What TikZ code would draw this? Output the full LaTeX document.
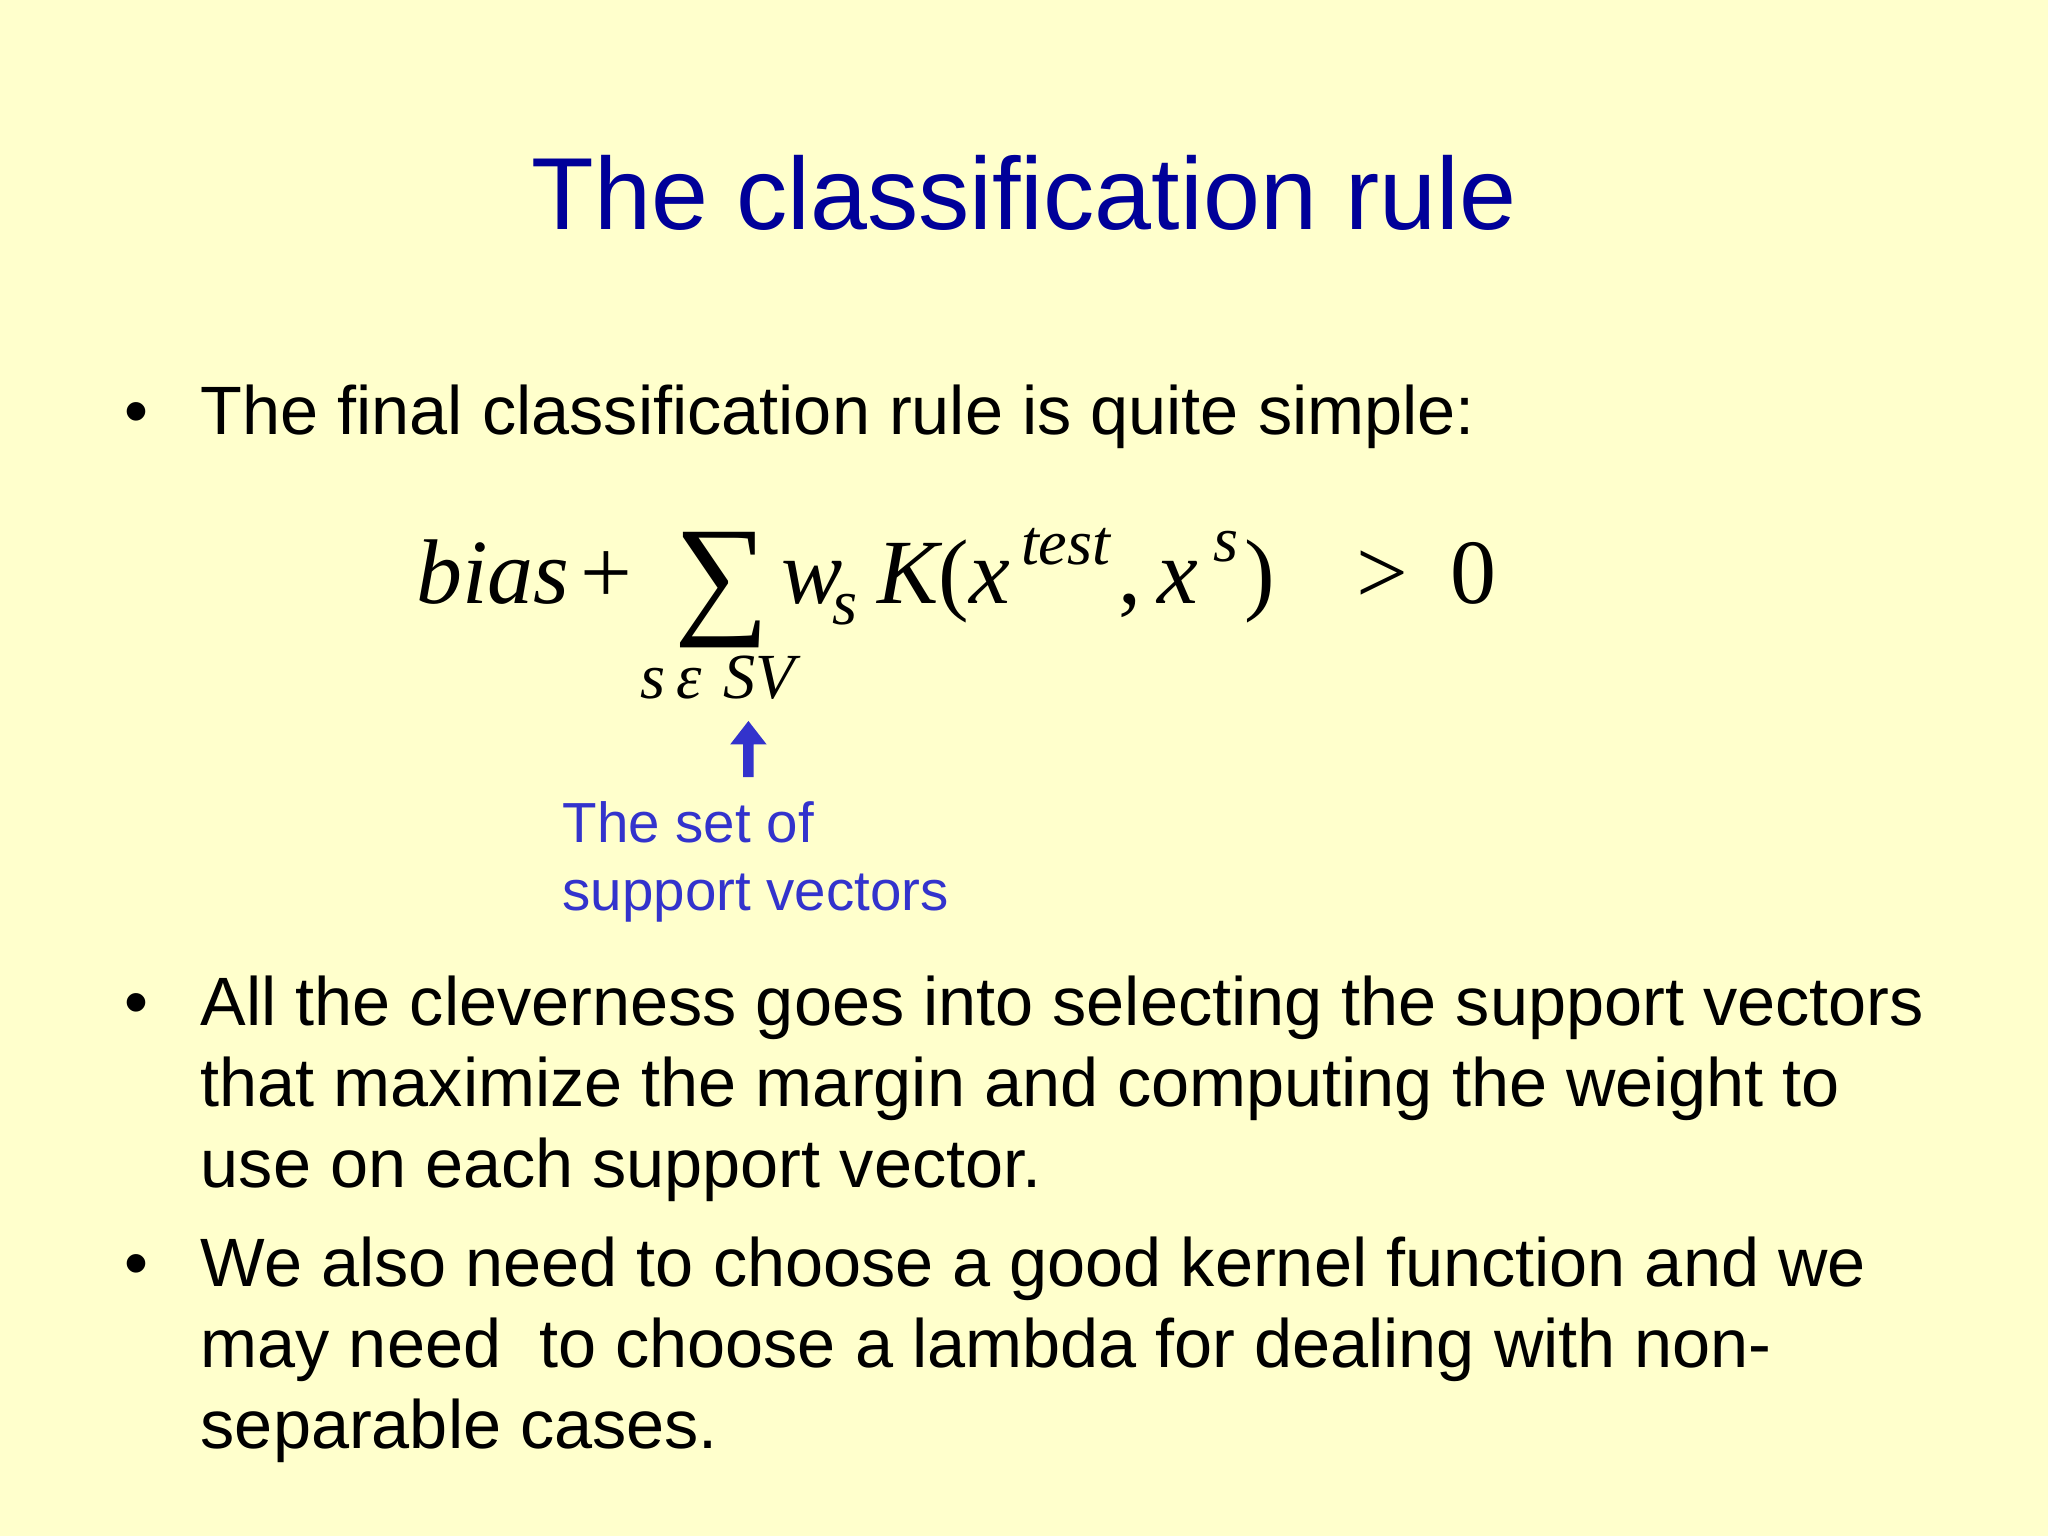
\documentclass[tikz,border=0pt]{standalone}
\usepackage{fontspec}
\setmainfont{Liberation Sans}
\newfontfamily\fserif{Liberation Serif}
\definecolor{bg}{HTML}{FFFFCC}
\definecolor{ttl}{HTML}{000099}
\definecolor{capcol}{HTML}{3333CC}
\begin{document}
\begin{tikzpicture}[x=0.01cm,y=-0.01cm,
  body/.style={anchor=base west,inner sep=0,font=\fontsize{14.9pt}{18pt}\selectfont},
  fm/.style={anchor=base west,inner sep=0,font=\fserif\fontsize{20pt}{24pt}\selectfont},
  fsub/.style={anchor=base west,inner sep=0,font=\fserif\fontsize{14pt}{16pt}\selectfont\itshape},
  capt/.style={anchor=base west,inner sep=0,text=capcol,font=\fontsize{12.3pt}{14pt}\selectfont}]
\fill[bg] (0,0) rectangle (1568,1176);
\useasboundingbox (0,0) rectangle (1568,1176);
\node[anchor=base,inner sep=0,text=ttl,font=\fontsize{22.3pt}{26pt}\selectfont] (title) at (784,176) {The classification rule};
\node[body] (b1) at (95,333) {•};
\node[body] (l1) at (153,333) {The final classification rule is quite simple:};
% formula
\node[fm] (bias) at (318,462) {\itshape bias};
\node[fm] (plus) at (444,462) {+};
\node[anchor=base west,inner sep=0,font=\fserif\fontsize{29pt}{32pt}\selectfont] (sum) at (516,474) {∑};
\node[fm] (w) at (598,462) {\itshape w};
\node[fsub] (ws) at (637,478) {s};
\node[fm] (K) at (671,462) {\itshape K\upshape(\itshape x};
\node[fsub] (test) at (781,432) {test};
\node[fm] (cx) at (856,462) {,\,\itshape x};
\node[fsub] (xs) at (928,430) {s};
\node[fm] (rp) at (952,462) {)};
\node[fm] (gt) at (1038,462) {>};
\node[fm] (zero) at (1110,462) {0};
\node[fsub] (sv) at (490,535) {s\,ε\,\,SV};
% arrow
\coordinate (at) at (573,552);
\fill[capcol] (at) -- ++(-14,18) -- ++(10,0) -- ++(0,25) -- ++(8,0) -- ++(0,-25) -- ++(10,0) -- cycle;
\node[capt] (c1) at (430,645) {The set of};
\node[capt] (c2) at (430,697) {support vectors};
\node[body] (b2) at (95,785) {•};
\node[body] (m1) at (153,785) {All the cleverness goes into selecting the support vectors};
\node[body] (m2) at (153,847) {that maximize the margin and computing the weight to};
\node[body] (m3) at (153,909) {use on each support vector.};
\node[body] (b3) at (95,985) {•};
\node[body] (n1) at (153,985) {We also need to choose a good kernel function and we};
\node[body] (n2) at (153,1047) {may need\ \ to choose a lambda for dealing with non-};
\node[body] (n3) at (153,1109) {separable cases.};
\end{tikzpicture}
\end{document}
